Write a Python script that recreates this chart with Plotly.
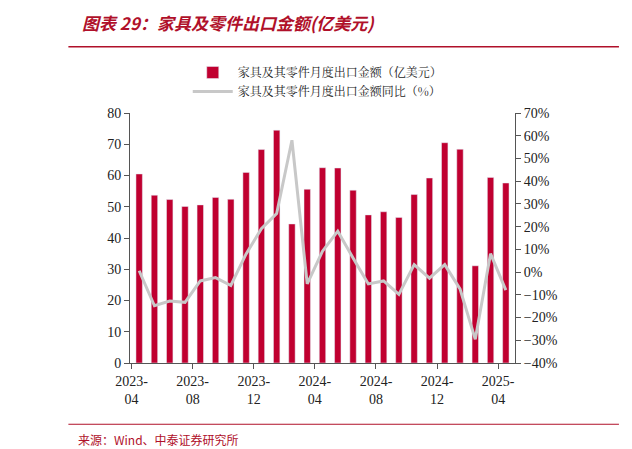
import plotly.graph_objects as go

months = ["2023-04","2023-05","2023-06","2023-07","2023-08","2023-09","2023-10","2023-11","2023-12",
          "2024-01","2024-02","2024-03","2024-04","2024-05","2024-06","2024-07","2024-08","2024-09","2024-10",
          "2024-11","2024-12","2025-01","2025-02","2025-03","2025-04"]
export_value = [60.5,53.7,52.3,50.1,50.6,53.0,52.4,61.0,68.3,74.5,44.5,55.6,62.5,62.4,55.3,47.4,48.4,46.6,53.9,
                59.2,70.5,68.4,31.1,59.4,57.6]
yoy_pct = [0.6,-14.8,-12.7,-13.3,-3.9,-2.4,-5.9,8.0,19.1,25.8,58.0,-5.2,9.2,18.0,6.2,-5.2,-3.9,-9.8,3.3,
           -2.7,3.3,-7.4,-29.6,8.1,-7.9]
tick_pos = [-0.5,3.5,7.5,11.5,15.5,19.5,23.5]
tick_text = ["2023-<br>04","2023-<br>08","2023-<br>12","2024-<br>04","2024-<br>08","2024-<br>12","2025-<br>04"]

x = list(range(len(months)))
fig = go.Figure()
fig.add_bar(x=x, y=export_value, name="家具及其零件月度出口金额（亿美元）", marker_color="#C00030",
            width=0.42, customdata=months)
fig.add_scatter(x=x, y=yoy_pct, name="家具及其零件月度出口金额同比（%）", yaxis="y2", mode="lines",
                line=dict(color="#C8C8C8", width=3))
serif = "Liberation Serif"
fig.update_layout(
    width=632, height=449, paper_bgcolor="white", plot_bgcolor="white",
    margin=dict(l=122, r=125, t=105, b=94, autoexpand=False),
    font=dict(family=serif, size=13, color="#222"),
    showlegend=True,
    legend=dict(x=0.15, xanchor="left", y=1.22, yanchor="top", bgcolor="rgba(0,0,0,0)",
                font=dict(family="Noto Serif CJK SC, Noto Sans CJK SC", size=12), tracegroupgap=0,
                itemwidth=40),
    xaxis=dict(range=[-0.6, 24.6], tickmode="array", tickvals=tick_pos, ticktext=tick_text,
               showline=True, linecolor="#555", ticks="outside", ticklen=5, tickcolor="#555",
               showgrid=False, zeroline=False, tickfont=dict(size=14)),
    yaxis=dict(range=[0,80], dtick=10, showline=True, linecolor="#555", ticks="outside", ticklen=5,
               tickcolor="#555", showgrid=False, zeroline=False, tickfont=dict(size=14)),
    yaxis2=dict(range=[-40,70], dtick=10, overlaying="y", side="right", showline=True, linecolor="#555",
                ticks="outside", ticklen=5, tickcolor="#555", showgrid=False, zeroline=False,
                ticksuffix="%", tickfont=dict(size=14)),
)
fig.add_annotation(xref="paper", yref="paper", x=-0.13, y=1.36, xanchor="left", yanchor="middle",
                   text="<b><i>图表 29：家具及零件出口金额(亿美元)</i></b>", showarrow=False,
                   font=dict(family="Noto Sans CJK SC", size=17, color="#B0102A"))
fig.add_shape(type="line", xref="paper", yref="paper", x0=-0.16, x1=1.27, y0=1.265, y1=1.265,
              line=dict(color="#B0102A", width=1.5))
fig.add_shape(type="line", xref="paper", yref="paper", x0=-0.16, x1=1.27, y0=-0.245, y1=-0.245,
              line=dict(color="#B0102A", width=1))
fig.add_annotation(xref="paper", yref="paper", x=-0.14, y=-0.305, xanchor="left", yanchor="middle",
                   text="来源：Wind、中泰证券研究所", showarrow=False,
                   font=dict(family="Noto Sans CJK SC", size=12, color="#B0102A"))
fig.write_html("out.html")
